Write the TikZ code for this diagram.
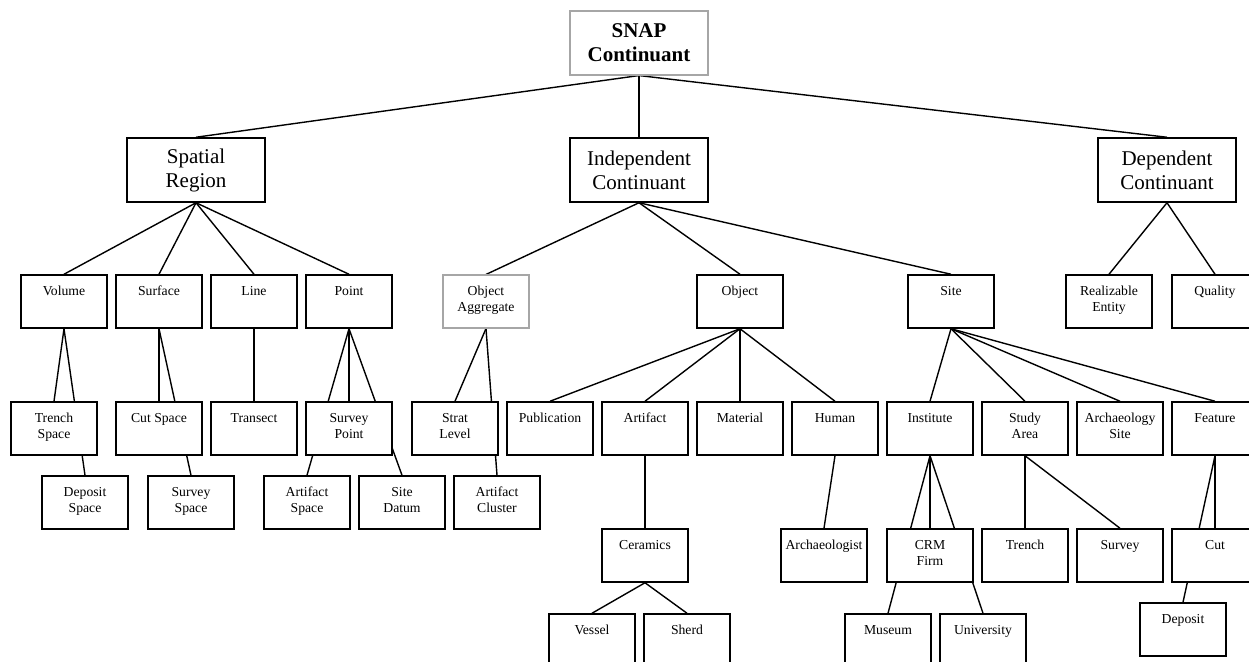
\documentclass[tikz,border=0pt]{standalone}
\usepackage{fontspec}
\setmainfont{Liberation Serif}
\usetikzlibrary{backgrounds}
\tikzset{
 bigbox/.style={draw, line width=1.5bp, fill=white, minimum width=138bp, minimum height=64bp, inner sep=0pt, align=center, font=\fontsize{21bp}{24bp}\selectfont},
 greybig/.style={bigbox, draw=black!35, line width=1.1bp, font=\fontsize{21bp}{24bp}\selectfont\bfseries},
 smallbox/.style={draw, line width=1.5bp, fill=white, minimum width=86bp, minimum height=53bp, inner sep=0pt},
 greysmall/.style={smallbox, draw=black!35, line width=1.1bp},
 boxtext/.style={anchor=north, yshift=-9.8bp, inner sep=0pt, align=center, font=\fontsize{13.7bp}{16bp}\selectfont},
 link/.style={line width=1.4bp},
}
\newcommand\leaf[5][smallbox]{\node[#1] (#2) at (#3,#4) {}; \node[boxtext] (#2-t) at (#2.north) {\strut #5};}
\begin{document}
\begin{tikzpicture}[x=1bp, y=-1bp]
\useasboundingbox (0,0) rectangle (1249,662);
% level 0/1
\node[greybig] (snap) at (639,43) {SNAP\\Continuant};
\node[bigbox] (sr) at (196,170) {Spatial\\Region};
\node[bigbox] (ic) at (639,170) {Independent\\Continuant};
\node[bigbox] (dc) at (1167,170) {Dependent\\Continuant};
% level 2
\leaf{vol}{64}{301.5}{Volume}
\leaf{surf}{159}{301.5}{Surface}
\leaf{line}{254}{301.5}{Line}
\leaf{point}{349}{301.5}{Point}
\leaf[greysmall]{oagg}{486}{301.5}{Object\\Aggregate}
\leaf{obj}{740}{301.5}{Object}
\leaf{site}{951}{301.5}{Site}
\leaf{real}{1109}{301.5}{Realizable\\Entity}
\leaf{qual}{1215}{301.5}{Quality}
% level 3
\leaf{trsp}{54}{428.5}{Trench\\Space}
\leaf{cutsp}{159}{428.5}{Cut Space}
\leaf{trans}{254}{428.5}{Transect}
\leaf{svpt}{349}{428.5}{Survey\\Point}
\leaf{strat}{455}{428.5}{Strat\\Level}
\leaf{pub}{550}{428.5}{Publication}
\leaf{art}{645}{428.5}{Artifact}
\leaf{mat}{740}{428.5}{Material}
\leaf{hum}{835}{428.5}{Human}
\leaf{inst}{930}{428.5}{Institute}
\leaf{study}{1025}{428.5}{Study\\Area}
\leaf{asite}{1120}{428.5}{Archaeology\\Site}
\leaf{feat}{1215}{428.5}{Feature}
% level 4a
\leaf{depsp}{85}{502.5}{Deposit\\Space}
\leaf{svsp}{191}{502.5}{Survey\\Space}
\leaf{artsp}{307}{502.5}{Artifact\\Space}
\leaf{datum}{402}{502.5}{Site\\Datum}
\leaf{artcl}{497}{502.5}{Artifact\\Cluster}
% level 4b
\leaf{cer}{645}{555.5}{Ceramics}
\leaf{archl}{824}{555.5}{Archaeologist}
\leaf{crm}{930}{555.5}{CRM\\Firm}
\leaf{trench}{1025}{555.5}{Trench}
\leaf{survey}{1120}{555.5}{Survey}
\leaf{cut}{1215}{555.5}{Cut}
% level 5
\leaf{vessel}{592}{640.5}{Vessel}
\leaf{sherd}{687}{640.5}{Sherd}
\leaf{mus}{888}{640.5}{Museum}
\leaf{univ}{983}{640.5}{University}
\leaf{dep}{1183}{629.5}{Deposit}
% connectors
\begin{scope}[on background layer]
\foreach \c in {sr,ic,dc} \draw[link] (snap.south) -- (\c.north);
\foreach \c in {vol,surf,line,point} \draw[link] (sr.south) -- (\c.north);
\foreach \c in {oagg,obj,site} \draw[link] (ic.south) -- (\c.north);
\foreach \c in {real,qual} \draw[link] (dc.south) -- (\c.north);
\foreach \c in {trsp,depsp} \draw[link] (vol.south) -- (\c.north);
\foreach \c in {cutsp,svsp} \draw[link] (surf.south) -- (\c.north);
\draw[link] (line.south) -- (trans.north);
\foreach \c in {svpt,artsp,datum} \draw[link] (point.south) -- (\c.north);
\foreach \c in {strat,artcl} \draw[link] (oagg.south) -- (\c.north);
\foreach \c in {pub,art,mat,hum} \draw[link] (obj.south) -- (\c.north);
\foreach \c in {inst,study,asite,feat} \draw[link] (site.south) -- (\c.north);
\draw[link] (art.south) -- (cer.north);
\foreach \c in {vessel,sherd} \draw[link] (cer.south) -- (\c.north);
\draw[link] (hum.south) -- (archl.north);
\foreach \c in {crm,mus,univ} \draw[link] (inst.south) -- (\c.north);
\foreach \c in {trench,survey} \draw[link] (study.south) -- (\c.north);
\foreach \c in {cut,dep} \draw[link] (feat.south) -- (\c.north);
\end{scope}
\end{tikzpicture}
\end{document}
